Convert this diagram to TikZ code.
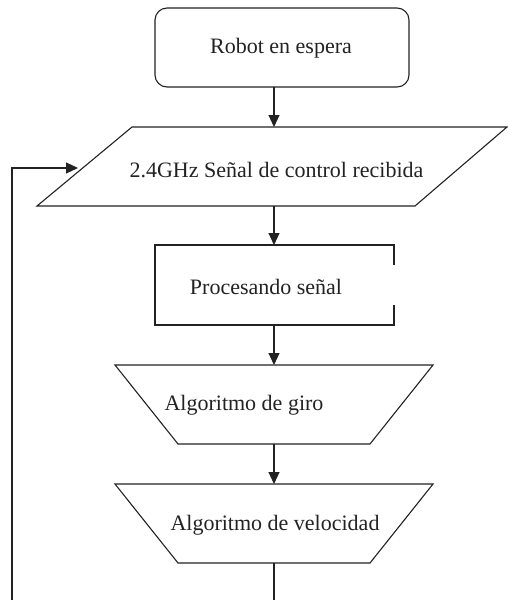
\documentclass[tikz,border=0pt]{standalone}
\usepackage{fontspec}
\setmainfont{Liberation Serif}
\usetikzlibrary{arrows.meta}
\definecolor{ink}{HTML}{222222}
\tikzset{
  frame/.style={inner sep=0pt, outer sep=0pt, draw=none},
  lbl/.style={inner sep=0pt, font=\fontsize{22}{25}\selectfont, text=ink},
  shapeline/.style={draw=ink, line width=1.1pt},
  conn/.style={draw=ink, line width=1.1pt, -{Triangle[width=11pt,length=12pt]}},
  plainconn/.style={draw=ink, line width=1.1pt},
}
\begin{document}
\begin{tikzpicture}[x=1pt,y=-1pt]
\useasboundingbox (0,0) rectangle (508,600);
% column for vertical connectors
\coordinate (col) at (274,0);
% Box 1: rounded rectangle
\node[frame, shapeline, rounded corners=12pt, minimum width=254pt, minimum height=79pt] (n1) at (282,47.5) {};
\node[lbl] (t1) at (281,48) {Robot en espera};
% Parallelogram
\node[frame, minimum width=470pt, minimum height=79pt] (n2) at (272.5,166.5) {};
\draw[shapeline] (37,206) -- (132,127) -- (507,127) -- (415,206) -- cycle;
\node[lbl] (t2) at (276.5,170) {2.4GHz Señal de control recibida};
% Box 3 with gap on right
\node[frame, minimum width=239pt, minimum height=80pt] (n3) at (274.5,285) {};
\draw[shapeline] (394,265) -- (394,245) -- (155,245) -- (155,325) -- (394,325) -- (394,305);
\node[lbl] (t3) at (266,287) {Procesando señal};
% Trapezoid 1
\node[frame, minimum width=318pt, minimum height=79pt] (n4) at (274,404.5) {};
\draw[shapeline] (115,365) -- (433,365) -- (370,444) -- (178,444) -- cycle;
\node[lbl] (t4) at (244,405) {Algoritmo de giro};
% Trapezoid 2
\node[frame, minimum width=318pt, minimum height=79pt] (n5) at (274,523.5) {};
\draw[shapeline] (115,484) -- (433,484) -- (370,563) -- (178,563) -- cycle;
\node[lbl] (t5) at (275,525) {Algoritmo de velocidad};
% bottom free ends and feedback
\coordinate (bot) at (274,600);
\coordinate (fbb) at (12,600);
\coordinate (fbt) at (12,168);
\coordinate (fbtip) at (78,168);
% connectors
\draw[conn] (n1.south -| col) -- (n2.north -| col);
\draw[conn] (n2.south -| col) -- (n3.north -| col);
\draw[conn] (n3.south -| col) -- (n4.north -| col);
\draw[conn] (n4.south -| col) -- (n5.north -| col);
\draw[plainconn] (n5.south -| col) -- (bot);
\draw[conn] (fbb) -- (fbt) -- (fbtip);
\end{tikzpicture}
\end{document}
